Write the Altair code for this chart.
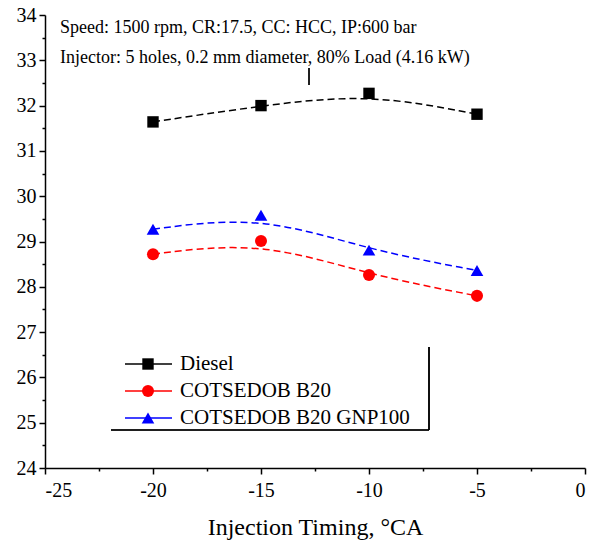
import altair as alt
import pandas as pd

# Measured data
timing = [-20, -15, -10, -5]
series_names = ["Diesel", "COTSEDOB B20", "COTSEDOB B20 GNP100"]
diesel = [31.64, 32.0, 32.27, 31.81]
b20 = [28.72, 29.01, 28.26, 27.80]
gnp100 = [29.27, 29.58, 28.81, 28.36]

colors = ["#000000", "#ff0000", "#0000ff"]
shapes = ["square", "circle", "triangle-up"]
marker_sizes = [130, 160, 180]

x_ticks = [-25, -22.5, -20, -17.5, -15, -12.5, -10, -7.5, -5, -2.5, 0]
y_ticks = [24, 24.5, 25, 25.5, 26, 26.5, 27, 27.5, 28, 28.5, 29, 29.5,
           30, 30.5, 31, 31.5, 32, 32.5, 33, 33.5, 34]

note_lines = [
    "Speed: 1500 rpm, CR:17.5, CC: HCC, IP:600 bar",
    "Injector: 5 holes, 0.2 mm diameter, 80% Load (4.16 kW)",
]

rows = []
for name, vals in zip(series_names, [diesel, b20, gnp100]):
    for t, v in zip(timing, vals):
        rows.append({"series": name, "timing": t, "value": v})
df = pd.DataFrame(rows)
legend_df = pd.DataFrame({"series": series_names})
notes_df = pd.DataFrame({"text": note_lines, "row": [0, 1]})

FONT = "Liberation Serif"
W, H = 540, 453

color = alt.Color("series:N", scale=alt.Scale(domain=series_names, range=colors), legend=None)
shape = alt.Shape("series:N", scale=alt.Scale(domain=series_names, range=shapes), legend=None)
size = alt.Size("series:N", scale=alt.Scale(domain=series_names, range=marker_sizes), legend=None)

x_enc = alt.X(
    "timing:Q",
    scale=alt.Scale(domain=[-25, 0], nice=False, zero=False),
    axis=alt.Axis(
        values=x_ticks,
        title="Injection Timing, °CA",
        labelExpr="datum.value % 5 === 0 ? '' + datum.value : ''",
        tickSize={"condition": {"test": "datum.value % 5 === 0", "value": 6}, "value": 3},
        labelOverlap=False,
        grid=False,
        labelFont=FONT, labelFontSize=20, labelColor="#000",
        labelPadding=6,
        titleFont=FONT, titleFontSize=24, titleFontWeight="normal", titleColor="#000",
        titlePadding=15,
        domainColor="#000", domainWidth=1.5, tickColor="#000", tickWidth=1.5,
    ),
)
y_enc = alt.Y(
    "value:Q",
    scale=alt.Scale(domain=[24, 34], nice=False, zero=False),
    axis=alt.Axis(
        values=y_ticks,
        title=None,
        labelExpr="datum.value % 1 === 0 ? '' + datum.value : ''",
        tickSize={"condition": {"test": "datum.value % 1 === 0", "value": 6}, "value": 3},
        labelOverlap=False,
        grid=False,
        labelFont=FONT, labelFontSize=20, labelColor="#000",
        labelPadding=3,
        domainColor="#000", domainWidth=1.5, tickColor="#000", tickWidth=1.5,
    ),
)

# Smoothed B-spline connection through each fuel's points
curves = (
    alt.Chart(df)
    .mark_line(interpolate="basis", strokeDash=[7, 4], strokeWidth=1.5)
    .encode(x=x_enc, y=y_enc, color=color, order="timing:Q")
)

markers = (
    alt.Chart(df)
    .mark_point(filled=True, opacity=1)
    .encode(x=x_enc, y=y_enc, color=color, shape=shape, size=size)
)

data_layer = alt.layer(curves, markers)

# Legend drawn as its own small layer
legend_y = alt.Y(
    "series:N",
    scale=alt.Scale(type="point", domain=series_names, range=[349, 403], padding=0),
    axis=None,
)
leg_lines = alt.Chart(legend_df).mark_rule(strokeWidth=1.5).encode(
    x=alt.value(80), x2=alt.value(127), y=legend_y, color=color
)
leg_marks = alt.Chart(legend_df).mark_point(filled=True, opacity=1).encode(
    x=alt.value(103), y=legend_y, color=color, shape=shape, size=size
)
leg_text = alt.Chart(legend_df).mark_text(
    align="left", baseline="middle", font=FONT, fontSize=21, color="#000"
).encode(x=alt.value(135), y=legend_y, text="series:N")
legend_layer = alt.layer(leg_lines, leg_marks, leg_text)

frame_bottom = alt.Chart(legend_df).mark_rule(color="#000", strokeWidth=1.2).encode(
    x=alt.value(66), x2=alt.value(384), y=alt.value(415)
)
frame_right = alt.Chart(legend_df).mark_rule(color="#000", strokeWidth=1.2).encode(
    x=alt.value(384), y=alt.value(332), y2=alt.value(415)
)
stray_tick = alt.Chart(legend_df).mark_rule(color="#000", strokeWidth=1).encode(
    x=alt.value(264), y=alt.value(53), y2=alt.value(70)
)

notes_y = alt.Y(
    "row:O",
    scale=alt.Scale(type="point", domain=[0, 1], range=[13, 43], padding=0),
    axis=None,
)
notes = alt.Chart(notes_df).mark_text(
    align="left", baseline="middle", font=FONT, fontSize=18, color="#000"
).encode(x=alt.value(15), y=notes_y, text="text:N")

chart = (
    alt.layer(data_layer, legend_layer, notes, frame_bottom, frame_right, stray_tick)
    .resolve_scale(y="independent")
    .properties(
        width=W,
        height=H,
        background="white",
        autosize=alt.AutoSizeParams(type="none"),
        padding={"left": 45, "top": 15, "right": 10, "bottom": 83},
    )
    .configure_view(stroke=None)
)

chart.save("out.html", embed_options={"renderer": "svg", "actions": False})
